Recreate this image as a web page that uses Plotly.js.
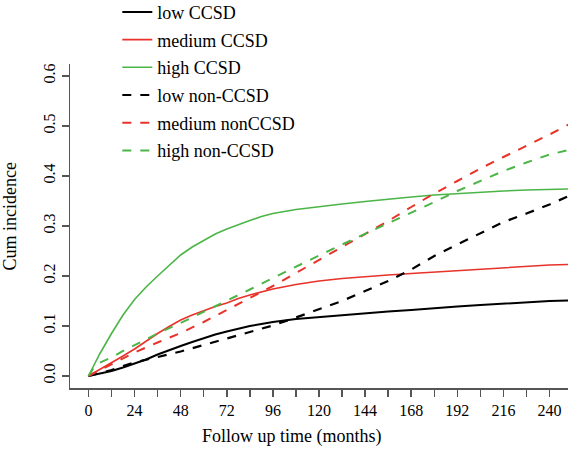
<!DOCTYPE html>
<html>
<head>
<meta charset="utf-8">
<script src="https://cdn.plot.ly/plotly-3.0.1.min.js"></script>
<style>html,body{margin:0;padding:0;background:#fff;}#chart{width:574px;height:449px;}</style>
</head>
<body>
<div id="chart"></div>
<script>
// Follow up time (months)
const tSolid = [0,6,12,18,24,30,36,42,48,54,60,66,72,78,84,90,96,108,120,132,144,156,168,180,192,204,216,228,240,250];
const lowCCSD    = [0,0.005,0.01,0.017,0.025,0.033,0.043,0.052,0.06,0.068,0.076,0.083,0.089,0.095,0.1,0.104,0.108,0.114,0.118,0.122,0.126,0.129,0.132,0.136,0.139,0.142,0.145,0.148,0.15,0.151];
const mediumCCSD = [0,0.013,0.027,0.04,0.054,0.07,0.085,0.099,0.112,0.122,0.131,0.139,0.146,0.155,0.162,0.168,0.174,0.183,0.19,0.195,0.199,0.202,0.205,0.208,0.211,0.213,0.216,0.219,0.222,0.223];
const highCCSD   = [0,0.045,0.085,0.122,0.153,0.178,0.2,0.222,0.242,0.258,0.271,0.284,0.294,0.303,0.311,0.319,0.325,0.333,0.339,0.344,0.349,0.354,0.358,0.362,0.365,0.368,0.37,0.372,0.373,0.374];

const tDash = [0,3,6,12,18,24,36,48,60,72,84,96,108,120,132,144,156,168,180,192,204,216,228,240,250];
const lowNon    = [0,0.003,0.006,0.012,0.02,0.027,0.038,0.049,0.062,0.075,0.088,0.101,0.117,0.133,0.15,0.17,0.19,0.213,0.24,0.263,0.285,0.308,0.325,0.343,0.36];
const mediumNon = [0,0.006,0.012,0.024,0.036,0.047,0.067,0.086,0.108,0.132,0.155,0.18,0.206,0.232,0.258,0.284,0.31,0.338,0.365,0.39,0.415,0.438,0.46,0.483,0.503];
const highNon   = [0,0.018,0.027,0.037,0.05,0.062,0.085,0.106,0.128,0.15,0.173,0.196,0.219,0.241,0.263,0.284,0.305,0.326,0.348,0.37,0.39,0.41,0.427,0.443,0.452];

const seriesNames = ["low CCSD","medium CCSD","high CCSD","low non-CCSD","medium nonCCSD","high non-CCSD"];
const xTicks = [0,12,24,36,48,60,72,84,96,108,120,132,144,156,168,180,192,204,216,228,240];
const xTickText = xTicks.map(v => v % 24 === 0 ? String(v) : "");
const yTicks = [0,0.1,0.2,0.3,0.4,0.5,0.6];
const yTickText = ["0.0","0.1","0.2","0.3","0.4","0.5","0.6"];

const BLACK = "#000000", RED = "#e8322a", GREEN = "#4cb548";
const FONT = "Liberation Serif, Times New Roman, serif";

function tr(x, y, name, color, dash, w, g) {
  return {x: x, y: y, name: name, type: "scatter", mode: "lines",
    line: {color: color, width: w, dash: dash, shape: "linear"},
    legendgroup: g, hoverinfo: "skip"};
}
const data = [
  tr(tSolid, lowCCSD,    seriesNames[0], BLACK, "solid", 2, "a"),
  tr(tSolid, mediumCCSD, seriesNames[1], RED,   "solid", 1.6, "b"),
  tr(tSolid, highCCSD,   seriesNames[2], GREEN, "solid", 1.6, "c"),
  tr(tDash,  lowNon,     seriesNames[3], BLACK, "dash", 2.2, "d"),
  tr(tDash,  mediumNon,  seriesNames[4], RED,   "dash", 2, "e"),
  tr(tDash,  highNon,    seriesNames[5], GREEN, "dash", 2, "f")
];

const layout = {
  width: 574, height: 449,
  margin: {l: 70, r: 5.5, t: 64, b: 61, pad: 0, autoexpand: false},
  paper_bgcolor: "#fff", plot_bgcolor: "#fff",
  font: {family: FONT, color: "#000", size: 16},
  showlegend: true,
  legend: {x: 0.095, y: 1.217, xanchor: "left", yanchor: "top", bgcolor: "rgba(0,0,0,0)",
    borderwidth: 0, font: {family: FONT, size: 18, color: "#000"}, tracegroupgap: 1.3, traceorder: "grouped"},
  xaxis: {range: [-9.6, 249.6], showgrid: false, zeroline: false, showline: true, linecolor: "#555", linewidth: 1.5,
    ticks: "outside", ticklen: 7, tickwidth: 1.5, tickcolor: "#555",
    tickmode: "array", tickvals: xTicks, ticktext: xTickText,
    tickfont: {family: FONT, size: 16, color: "#000"}},
  yaxis: {range: [-0.024, 0.624], showgrid: false, zeroline: false, showline: true, linecolor: "#555", linewidth: 1.5,
    ticks: "outside", ticklen: 7, tickwidth: 1.5, tickcolor: "#555",
    tickmode: "array", tickvals: yTicks, ticktext: yTickText, tickangle: -90,
    tickfont: {family: FONT, size: 16, color: "#000"}},
  annotations: [
    {text: "Follow up time (months)", xref: "paper", yref: "paper", x: 0.446, y: -0.151,
      xanchor: "center", yanchor: "middle", showarrow: false, font: {family: FONT, size: 18, color: "#000"}},
    {text: "Cum incidence", xref: "paper", yref: "paper", x: -0.12, y: 0.53, textangle: -90,
      xanchor: "center", yanchor: "middle", showarrow: false, font: {family: FONT, size: 18, color: "#000"}}
  ]
};

Plotly.newPlot("chart", data, layout, {staticPlot: true, displayModeBar: false});
</script>
</body>
</html>
